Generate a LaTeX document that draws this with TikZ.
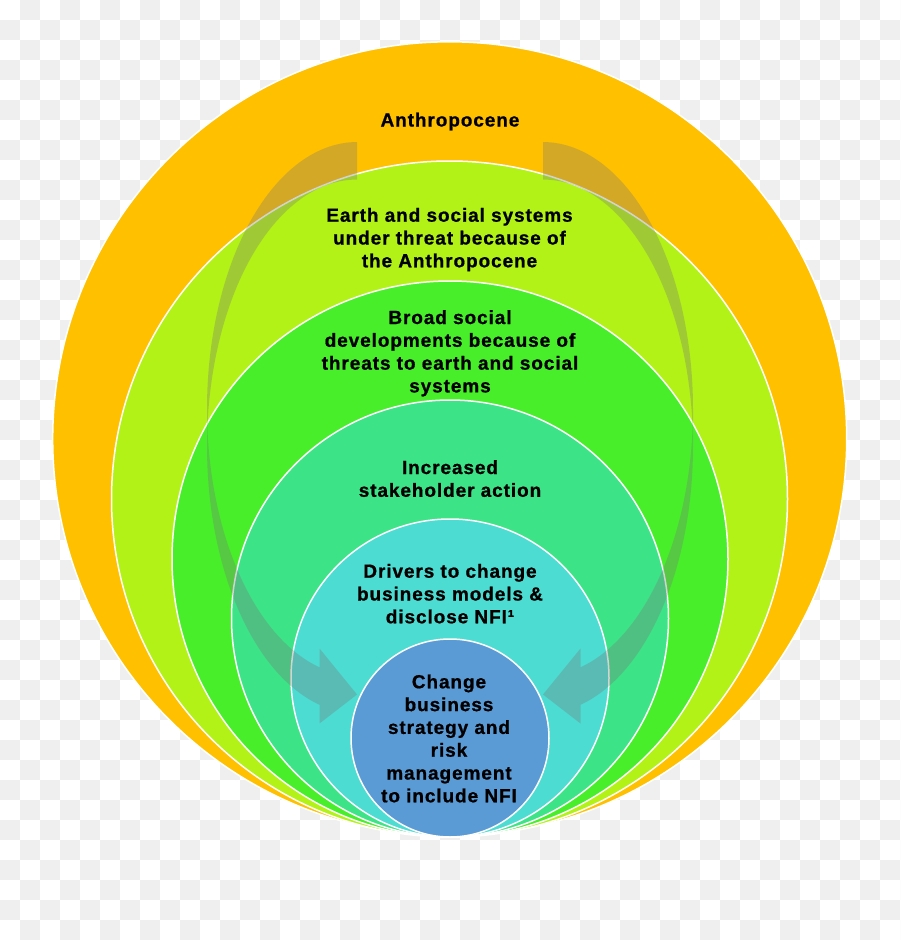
\documentclass[tikz,border=0pt]{standalone}
\usepackage{fontspec}
\setmainfont{Liberation Sans}
\newfontfamily\lblfont{Liberation Sans Bold}[LetterSpace=4.8, FakeBold=0.8]
\definecolor{cChk}{RGB}{239,239,239}
\definecolor{cOrange}{RGB}{255,192,0}
\definecolor{cLime}{RGB}{178,242,22}
\definecolor{cGreen}{RGB}{72,238,42}
\definecolor{cTeal}{RGB}{61,227,135}
\definecolor{cCyan}{RGB}{76,220,210}
\definecolor{cBlue}{RGB}{91,155,213}
\definecolor{cArrow}{RGB}{120,120,120}
\newcommand\stackblk[1]{\begin{tabular}[t]{@{}c@{}}#1\end{tabular}}
\begin{document}
\begin{tikzpicture}[x=1pt,y=-1pt,
  ring/.style={draw=white, line width=1.5pt},
  arrowfill/.style={fill=cArrow, fill opacity=0.32},
  lbl/.style={anchor=base, inner sep=0pt, text=black,
    font=\lblfont\fontsize{19}{22.8}\selectfont}]
\useasboundingbox (0,0) rectangle (900,940);
% transparency checkerboard
\begin{scope}
\clip (0,0) rectangle (900,940);
\fill[white] (0,0) rectangle (900,940);
\foreach \j in {0,...,46}{
  \pgfmathtruncatemacro\off{mod(\j+1,2)}
  \foreach \i in {0,...,22}{
    \fill[cChk] ({40*\i+20*\off},{20*\j}) rectangle ++(20,20);
  }
}
\end{scope}
% nested circles
\path[fill=cOrange, ring] (449.7,438.8) circle[radius=397];
\path[fill=cLime,   ring] (449.5,499)   circle[radius=338];
\path[fill=cGreen,  ring] (450,559)     circle[radius=278];
\path[fill=cTeal,   ring] (450,618.5)   circle[radius=218.5];
\path[fill=cCyan,   ring] (450,678)     circle[radius=159];
\path[fill=cBlue,   ring] (450,738)     circle[radius=99];
% curved arrows (left one and its mirror image)
\foreach \sx/\dx in {1/0,-1/900}{
\begin{scope}[shift={(\dx,0)}, xscale=\sx]
\fill[arrowfill] (207,408.9)
  -- plot[domain=180:104.48, samples=60] ({357+150*cos(\x)},{408.9+266.875*sin(\x)})
  -- (319.5,648.5) -- (357,694.5) -- (319.5,723.5) -- (319.5,704.8)
  -- plot[domain=104.48:180, samples=60] ({357+150*cos(\x)},{446.4+266.875*sin(\x)})
  -- (207,408.9)
  -- plot[domain=180:270, samples=60] ({357+150*cos(\x)},{408.9+266.875*sin(\x)})
  -- (357,179.5)
  -- plot[domain=270:184.03, samples=60] ({357+150*cos(\x)},{446.4+266.875*sin(\x)})
  -- cycle;
\end{scope}
}
% labels
\node[lbl] (anth)  at (450,126.5) {Anthropocene};
\node[lbl] (earth) at (449.5,221.7) {\stackblk{Earth and social systems\\under threat because of\\the Anthropocene}};
\node[lbl] (broad) at (450,324)   {\stackblk{Broad social\\developments because of\\threats to earth and social\\systems}};
\node[lbl] (incr)  at (450,474)   {\stackblk{Increased\\stakeholder action}};
\node[lbl] (driv)  at (450,577.7) {\stackblk{Drivers to change\\business models \&\\disclose NFI¹}};
\node[lbl] (chg)   at (449,688.3) {\stackblk{Change\\business\\strategy and\\risk\\management\\to include NFI}};
\end{tikzpicture}
\end{document}
